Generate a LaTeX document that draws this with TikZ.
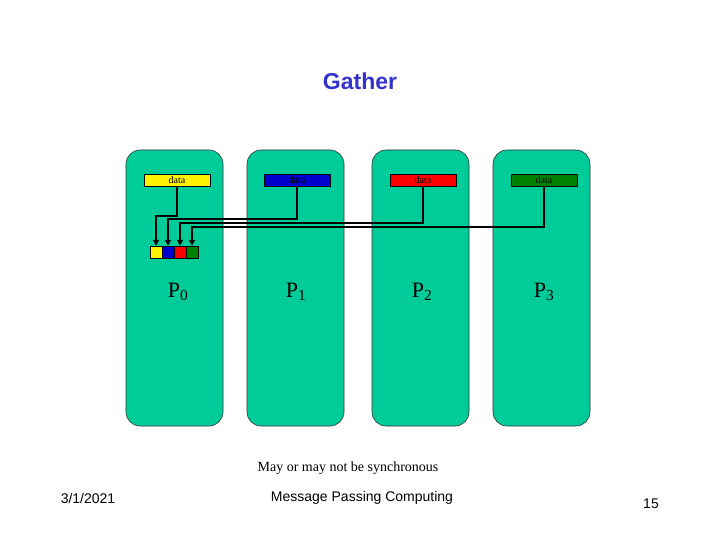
\documentclass[tikz,border=0pt]{standalone}
\usepackage{fontspec}
\setmainfont{Liberation Serif}
\setsansfont{Liberation Sans}
\usetikzlibrary{arrows.meta}
\begin{document}
\begin{tikzpicture}[x=1pt,y=-1pt,
 dbox/.style={draw=black,line width=0.5pt,minimum width=66pt,minimum height=12pt,inner sep=0pt,font=\fontsize{10}{10}\selectfont},
 sbox/.style={draw=black,line width=0.5pt,minimum width=12pt,minimum height=12pt,inner sep=0pt},
 conn/.style={line width=2pt,-{Triangle[length=6pt,width=6pt]}},
 plab/.style={font=\fontsize{22}{22}\selectfont},
 foot/.style={font=\sffamily\fontsize{14}{14}\selectfont}]
\definecolor{pg}{RGB}{0,204,153}
\definecolor{dgreen}{RGB}{0,128,0}
\definecolor{tblue}{RGB}{51,51,204}
\useasboundingbox (0,0) rectangle (720,540);
\foreach \x in {126,247,372,493}
  \draw[draw=black!80,fill=pg,line width=0.6pt,rounded corners=14pt] (\x,150) rectangle ++(97,276);
\node[font=\sffamily\bfseries\fontsize{23}{23}\selectfont,text=tblue] (t) at (360,81) {Gather};
\node[dbox,fill=yellow] (d0) at (177,180) {data};
\node[dbox,fill=blue!80!black] (d1) at (297,180) {data};
\node[dbox,fill=red] (d2) at (423,180) {data};
\node[dbox,fill=dgreen] (d3) at (544,180) {data};
\node[sbox,fill=yellow] (s0) at (156,252) {};
\node[sbox,fill=blue!80!black] (s1) at (168,252) {};
\node[sbox,fill=red] (s2) at (180,252) {};
\node[sbox,fill=dgreen] (s3) at (192,252) {};
\draw[conn] (d0.south) |- (156,216) -- (s0.north);
\draw[conn] (d1.south) |- (168,219) -- (s1.north);
\draw[conn] (d2.south) |- (180,223) -- (s2.north);
\draw[conn] (d3.south) |- (192,227) -- (s3.north);
\node[plab] (p0) at (178,292) {P\textsubscript{0}};
\node[plab] (p1) at (296,292) {P\textsubscript{1}};
\node[plab] (p2) at (422,292) {P\textsubscript{2}};
\node[plab] (p3) at (544,292) {P\textsubscript{3}};
\node[font=\fontsize{14}{14}\selectfont] (m) at (348,468) {May or may not be synchronous};
\node[foot] (f1) at (88,498) {3/1/2021};
\node[foot] (f2) at (362,498) {Message Passing Computing};
\node[foot] (f3) at (651,504) {15};
\end{tikzpicture}
\end{document}
